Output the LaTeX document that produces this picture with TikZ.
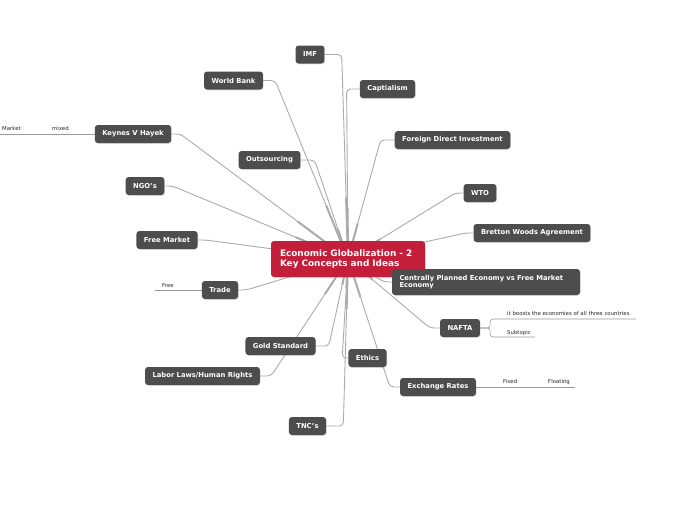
\documentclass[tikz,border=0pt]{standalone}
\usepackage{fontspec}
\setmainfont{DejaVu Sans}
\usetikzlibrary{calc,backgrounds,shadows}

\definecolor{topicgray}{HTML}{4D4D4D}
\definecolor{hubred}{HTML}{C41F3A}
\definecolor{linkgray}{HTML}{ABABAB}
\definecolor{subgray}{HTML}{9A9A9A}

\tikzset{
  topic/.style={fill=topicgray, text=white, rounded corners=3pt, font=\fontsize{6.8}{7.6}\selectfont\bfseries,
    minimum height=18pt, inner xsep=7.5pt, inner ysep=3pt,
    drop shadow={opacity=0.25, shadow xshift=0.6pt, shadow yshift=-0.8pt}},
  hubbox/.style={fill=hubred, text=white, rounded corners=3pt, font=\fontsize{8.9}{10.5}\selectfont\bfseries,
    align=left, text width=136pt, inner xsep=9pt, minimum height=36pt,
    drop shadow={opacity=0.25, shadow xshift=0.6pt, shadow yshift=-0.8pt}},
  leaf/.style={anchor=base west, inner sep=0pt, font=\fontsize{5.4}{6}\selectfont, text=black!85},
  link/.style={draw=linkgray, line width=0.9pt, rounded corners=4pt},
  stem/.style={draw=linkgray, line width=2pt},
  sub/.style={draw=subgray, line width=0.6pt},
}

\begin{document}
\begin{tikzpicture}[x=1pt,y=-1pt]
\useasboundingbox (0,0) rectangle (697,520);

\node[hubbox] (hub) at (348,259) {Economic Globalization - 2\\Key Concepts and Ideas};

% main topics
\node[topic] (imf) at (310,54.5) {IMF};
\node[topic] (wb) at (233.5,80.5) {World Bank};
\node[topic] (cap) at (387.5,89) {Captialism};
\node[topic] (kvh) at (133,134) {Keynes V Hayek};
\node[topic] (fdi) at (452.5,140) {Foreign Direct Investment};
\node[topic] (outs) at (269.5,160) {Outsourcing};
\node[topic] (ngo) at (145,186) {NGO's};
\node[topic] (wto) at (480,193) {WTO};
\node[topic] (fm) at (167,240) {Free Market};
\node[topic] (bw) at (532,233) {Bretton Woods Agreement};
\node[topic, align=left, text width=173pt, minimum height=26pt] (cp) at (486,282)
  {Centrally Planned Economy vs Free Market\\Economy};
\node[topic] (trade) at (220,290) {Trade};
\node[topic] (nafta) at (460,328) {NAFTA};
\node[topic] (gold) at (280.5,346) {Gold Standard};
\node[topic] (eth) at (367.5,358) {Ethics};
\node[topic] (labor) at (202.5,376) {Labor Laws/Human Rights};
\node[topic] (exr) at (438,387) {Exchange Rates};
\node[topic] (tnc) at (307.5,426) {TNC's};

% subtopics
\node[leaf] (market) at (2,130) {Market};
\node[leaf] (mixed) at (52,130) {mixed};
\node[leaf] (free) at (162,287) {Free};
\node[leaf] (boost) at (507,315) {it boosts the economies of all three countries};
\node[leaf] (subt) at (507,334) {Subtopic};
\node[leaf] (fixed) at (503,383) {Fixed};
\node[leaf] (float) at (548,383) {Floating};

\coordinate (kvhend) at (0,134);
\coordinate (freeend) at (155,290);
\coordinate (boostend) at (636,319);
\coordinate (subtend) at (535,337);
\coordinate (exrend) at (575,387);

\begin{scope}[on background layer]
\foreach \n/\a/\d in {imf/east/17, wb/east/12, cap/west/-13, kvh/east/9, fdi/west/-14,
  outs/east/14, ngo/east/8, wto/west/-8, fm/east/8, bw/west/-8, cp/west/-8, trade/east/8,
  nafta/west/-10, gold/east/13, eth/west/-6, labor/east/11, exr/west/-10, tnc/east/17}{
  \draw[link] (hub.center) -- ([xshift=\d pt]\n.\a) -- (\n.\a);
  \draw[stem] (hub.center) -- ($(hub.center)!0.3!([xshift=\d pt]\n.\a)$);
}
\draw[sub] (kvh.west) -- (kvhend);
\draw[sub] (trade.west) -- (freeend);
\draw[sub, rounded corners=3pt] (nafta.east) -- ++(10,0) |- (boostend);
\draw[sub, rounded corners=3pt] (nafta.east) -- ++(10,0) |- (subtend);
\draw[sub] (exr.east) -- (exrend);
\end{scope}
\end{tikzpicture}
\end{document}
